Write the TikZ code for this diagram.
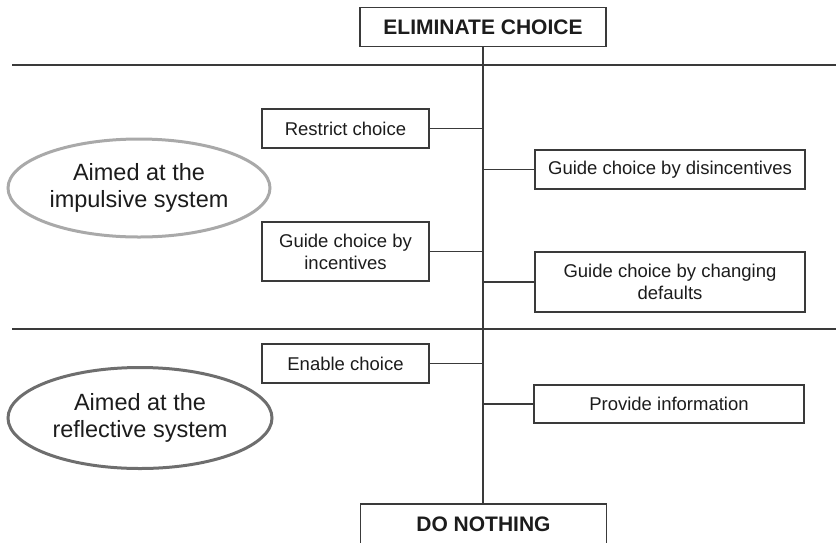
\documentclass[tikz,border=0pt]{standalone}
\usepackage{fontspec}
\setmainfont{Liberation Sans}
\usetikzlibrary{shapes.geometric}
\definecolor{ink}{HTML}{1C1C1C}
\definecolor{rule}{HTML}{3A3A3A}
\definecolor{lightring}{HTML}{A9A9A9}
\definecolor{darkring}{HTML}{6E6E6E}
\begin{document}
\begin{tikzpicture}[x=1pt,y=-1pt,
    box/.style={draw=rule,line width=1.2pt,text=ink,inner sep=0pt,align=center,
      font=\fontsize{18.5}{22}\selectfont,minimum height=39pt},
    endbox/.style={box,font=\fontsize{21}{22}\selectfont\bfseries,minimum width=246pt},
    ring/.style={ellipse,line width=3pt,inner sep=0pt,text=ink,align=center,
      font=\fontsize{23.5}{27}\selectfont}]
      \useasboundingbox (0,0) rectangle (836,542);
      \node[endbox] (elim) at (483,27) {ELIMINATE CHOICE};
      \node[endbox,minimum height=40pt] (nothing) at (483.5,524) {DO NOTHING};
      \node[box,minimum width=167pt] (restrict) at (345.5,128.5) {Restrict choice};
      \node[box,minimum width=167pt,minimum height=59pt] (incent) at (345.5,251.5)
        {Guide choice by\\incentives};
      \node[box,minimum width=270pt] (disinc) at (670,169.5)
        {Guide choice by disincentives};
      \node[box,minimum width=270pt,minimum height=60pt] (defaults) at (670,282)
        {Guide choice by changing\\defaults};
      \node[box,minimum width=167pt] (enable) at (345.5,363.5) {Enable choice};
      \node[box,minimum width=270pt,minimum height=38pt] (inform) at (669,404)
        {Provide information};
      \node[ring,draw=lightring,minimum width=262pt,minimum height=98pt] (impulsive)
        at (139,188) {Aimed at the\\impulsive system};
      \node[ring,draw=darkring,minimum width=264pt,minimum height=101pt] (reflective)
        at (140,418) {Aimed at the\\reflective system};
      \coordinate (upleft) at (12,65);
      \coordinate (upright) at (836,65);
      \coordinate (lowleft) at (12,329);
      \coordinate (lowright) at (836,329);
      \begin{scope}[draw=rule,line width=1.2pt]
        \draw (upleft) -- (upright);
        \draw (lowleft) -- (lowright);
        \draw (elim.south) -- (elim.south |- nothing.north);
        \draw (restrict.east) -- (restrict.east -| elim.south);
        \draw (incent.east) -- (incent.east -| elim.south);
        \draw (enable.east) -- (enable.east -| elim.south);
        \draw (disinc.west) -- (disinc.west -| elim.south);
        \draw (defaults.west) -- (defaults.west -| elim.south);
        \draw (inform.west) -- (inform.west -| elim.south);
      \end{scope}
    \end{tikzpicture}
\end{document}
